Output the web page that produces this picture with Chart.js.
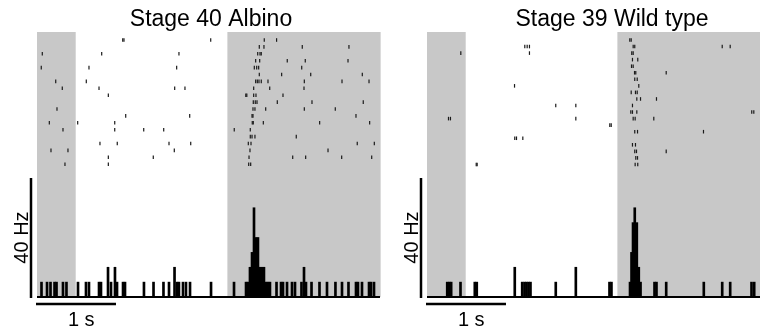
<!DOCTYPE html>
<html>
<head>
<meta charset="utf-8">
<script src="https://cdn.jsdelivr.net/npm/chart.js@4"></script>
<style>
html, body { margin: 0; padding: 0; background: #fff; }
body { width: 760px; height: 333px; overflow: hidden; position: relative; }
.panel { position: absolute; top: 0; width: 390px; height: 333px; }
</style>
</head>
<body>
<div class="panel" style="left:0"><canvas id="albino" width="390" height="333"></canvas></div>
<div class="panel" style="left:390px"><canvas id="wild" width="390" height="333"></canvas></div>
<script>
// spike times (s), one array per trial, top trial first
const albinoRaster = [
    [1.085, 1.101, 2.199, 2.877, 3.033],
    [2.814, 2.873, 3.358, 3.949],
    [0.067, 0.819, 1.797, 2.794, 2.823, 2.839],
    [2.768, 2.819, 3.168, 3.396, 3.937],
    [0.054, 0.658, 1.768, 2.751, 2.781, 2.806, 3.351],
    [2.814, 3.097, 3.465, 4.118],
    [0.237, 0.624, 2.768, 2.789, 2.810, 2.839, 2.924, 3.384, 3.861, 4.203],
    [0.320, 0.785, 1.743, 1.873, 2.743, 2.946, 3.380],
    [0.903, 2.643, 2.656, 2.743, 2.772, 3.114],
    [2.738, 2.763, 2.785, 3.042, 3.481, 4.130],
    [0.253, 2.734, 2.759, 2.895, 3.384, 3.776],
    [1.123, 1.933, 2.722, 2.734, 4.038],
    [0.156, 0.515, 0.984, 2.725, 2.738, 2.865, 3.578, 4.211],
    [0.329, 0.984, 1.351, 1.604, 2.497, 2.700],
    [2.700, 2.722, 2.759, 3.282],
    [0.797, 1.016, 1.671, 1.946, 2.675, 2.709, 4.054, 4.270],
    [0.177, 0.392, 1.738, 2.696, 3.684],
    [0.903, 1.472, 2.684, 3.237, 3.401, 3.857, 4.237],
    [0.354, 0.903, 2.680, 2.705]
];

const wildRaster = [
    [2.567, 2.585],
    [1.238, 1.268, 1.297, 2.610, 2.630, 3.737, 3.838],
    [0.428, 1.297, 2.592, 2.610],
    [2.601, 2.668],
    [2.589, 2.610],
    [2.627, 2.643, 3.028],
    [2.630, 2.661],
    [1.108, 2.681],
    [2.585, 2.639, 2.661],
    [2.656, 2.703, 2.905],
    [1.630, 1.884, 2.601],
    [2.580, 2.601, 2.656, 4.111, 4.137],
    [0.272, 0.297, 1.884, 2.610, 2.635, 2.871],
    [2.314, 2.332],
    [2.630, 2.665, 3.500],
    [1.111, 1.133, 1.213],
    [2.601, 2.639],
    [2.630, 2.652, 3.028],
    [2.643, 2.665],
    [0.623, 0.635, 2.635, 2.668]
];

// PSTH bins: time (s) and rate (Hz)
const albinoBinTimes = [0.057, 0.127, 0.171, 0.222, 0.247, 0.329, 0.373, 0.519, 0.620, 0.658,
    0.785, 0.810, 0.899, 0.937, 0.987, 1.013, 1.089, 1.114, 1.354, 1.475, 1.601, 1.671,
    1.741, 1.772, 1.797, 1.848, 1.886, 1.937, 2.203, 2.494,
    2.646, 2.671, 2.696, 2.722, 2.747, 2.772, 2.797, 2.823, 2.848, 2.873, 2.899, 2.924, 2.949,
    3.032, 3.089, 3.114, 3.165, 3.228, 3.266, 3.348, 3.380, 3.405,
    3.475, 3.576, 3.671, 3.778, 3.861, 3.943, 4.038, 4.063, 4.114, 4.203, 4.228, 4.266];
const albinoBinRates = [5, 5, 5, 5, 5, 5, 5, 5, 5, 5,
    5, 5, 10, 5, 10, 5, 5, 5, 5, 5, 5, 5,
    10, 5, 5, 5, 5, 5, 5, 5,
    5, 5, 10, 15, 30, 20, 20, 10, 10, 10, 5, 5, 5,
    5, 5, 5, 5, 5, 5, 5, 10, 5,
    5, 5, 5, 5, 5, 5, 5, 5, 5, 5, 5, 5];

const wildBinTimes = [0.256, 0.281, 0.306, 0.424, 0.605, 0.630, 1.111, 1.205, 1.234, 1.259,
    1.285, 1.310, 1.630, 1.884, 2.310, 2.335, 2.570, 2.589, 2.608, 2.630, 2.656, 2.681,
    2.703, 2.880, 2.905, 3.028, 3.504, 3.737, 3.838, 4.108, 4.142];
const wildBinRates = [5, 5, 5, 5, 5, 5, 10, 5, 5, 5,
    5, 5, 5, 10, 5, 5, 5, 15, 25, 30, 25, 10,
    5, 5, 5, 5, 5, 5, 5, 5, 5];

// light on periods (s)
const stimOn = [0, 2.41];
const stimOff = [0.49, 4.35];

const FONT = '"Liberation Sans", Arial, sans-serif';

const decor = {
    id: 'decor',
    beforeDatasetsDraw(chart) {
        const { ctx, chartArea: a, scales: { x } } = chart;
        ctx.save();
        ctx.fillStyle = '#c8c8c8';
        stimOn.forEach((t0, i) => {
            const x0 = x.getPixelForValue(t0);
            const x1 = x.getPixelForValue(stimOff[i]);
            ctx.fillRect(x0, a.top, x1 - x0, a.bottom - a.top);
        });
        ctx.restore();
    },
    afterDatasetsDraw(chart, args, opts) {
        const { ctx, chartArea: a, scales: { x, hz } } = chart;
        const y0 = hz.getPixelForValue(0);
        ctx.save();
        ctx.strokeStyle = '#000';

        // baseline
        ctx.lineWidth = 2;
        ctx.beginPath();
        ctx.moveTo(a.left, y0);
        ctx.lineTo(a.right, y0);
        ctx.stroke();

        // 40 Hz scale bar
        ctx.lineWidth = 2.5;
        const bx = a.left - 6;
        ctx.beginPath();
        ctx.moveTo(bx, y0 + 1);
        ctx.lineTo(bx, hz.getPixelForValue(40));
        ctx.stroke();

        // 1 s scale bar
        const by = y0 + 7;
        ctx.beginPath();
        ctx.moveTo(x.getPixelForValue(0) - 1, by);
        ctx.lineTo(x.getPixelForValue(1), by);
        ctx.stroke();

        ctx.fillStyle = '#000';
        ctx.textAlign = 'center';
        ctx.textBaseline = 'alphabetic';
        ctx.font = '20px ' + FONT;
        ctx.fillText('1 s', x.getPixelForValue(0.56), 326);

        ctx.save();
        ctx.translate(a.left - 9.5, hz.getPixelForValue(20));
        ctx.rotate(-Math.PI / 2);
        ctx.fillText('40 Hz', 0, 0);
        ctx.restore();

        ctx.font = '23px ' + FONT;
        ctx.fillText(opts.title, a.left + opts.titleX, 26);
        ctx.restore();
    }
};

function makeChart(id, raster, binTimes, binRates, rowGap, title, titleX) {
    const ticks = [];
    raster.forEach((row, i) => row.forEach(t => ticks.push({ x: t, y: i + 1 })));
    const bins = binTimes.map((t, i) => ({ x: t, y: binRates[i] }));
    const trialMin = 1 - 8 / rowGap;

    return new Chart(document.getElementById(id), {
        type: 'scatter',
        data: {
            datasets: [{
                type: 'bar',
                data: bins,
                xAxisID: 'x',
                yAxisID: 'hz',
                backgroundColor: '#000',
                borderWidth: 0,
                barThickness: 2
            }, {
                type: 'scatter',
                data: ticks,
                xAxisID: 'x',
                yAxisID: 'trial',
                pointStyle: 'line',
                rotation: 90,
                radius: 1.8,
                borderWidth: 1.2,
                borderColor: '#1a1a1a',
                backgroundColor: '#1a1a1a'
            }]
        },
        options: {
            responsive: false,
            animation: false,
            events: [],
            layout: { padding: { left: 37, right: 10, top: 32, bottom: 36 } },
            plugins: {
                legend: { display: false },
                tooltip: { enabled: false },
                decor: { title: title, titleX: titleX }
            },
            scales: {
                x: { type: 'linear', min: 0, max: 4.342, offset: false, display: false },
                y: { display: false },
                hz: { type: 'linear', axis: 'y', min: 0, max: 89.08, display: false },
                trial: { type: 'linear', axis: 'y', reverse: true, min: trialMin, max: trialMin + 265 / rowGap, display: false }
            }
        },
        plugins: [decor]
    });
}

makeChart('albino', albinoRaster, albinoBinTimes, albinoBinRates, 6.9, 'Stage 40 Albino', 174);
makeChart('wild', wildRaster, wildBinTimes, wildBinRates, 6.55, 'Stage 39 Wild type', 185);
</script>
</body>
</html>
